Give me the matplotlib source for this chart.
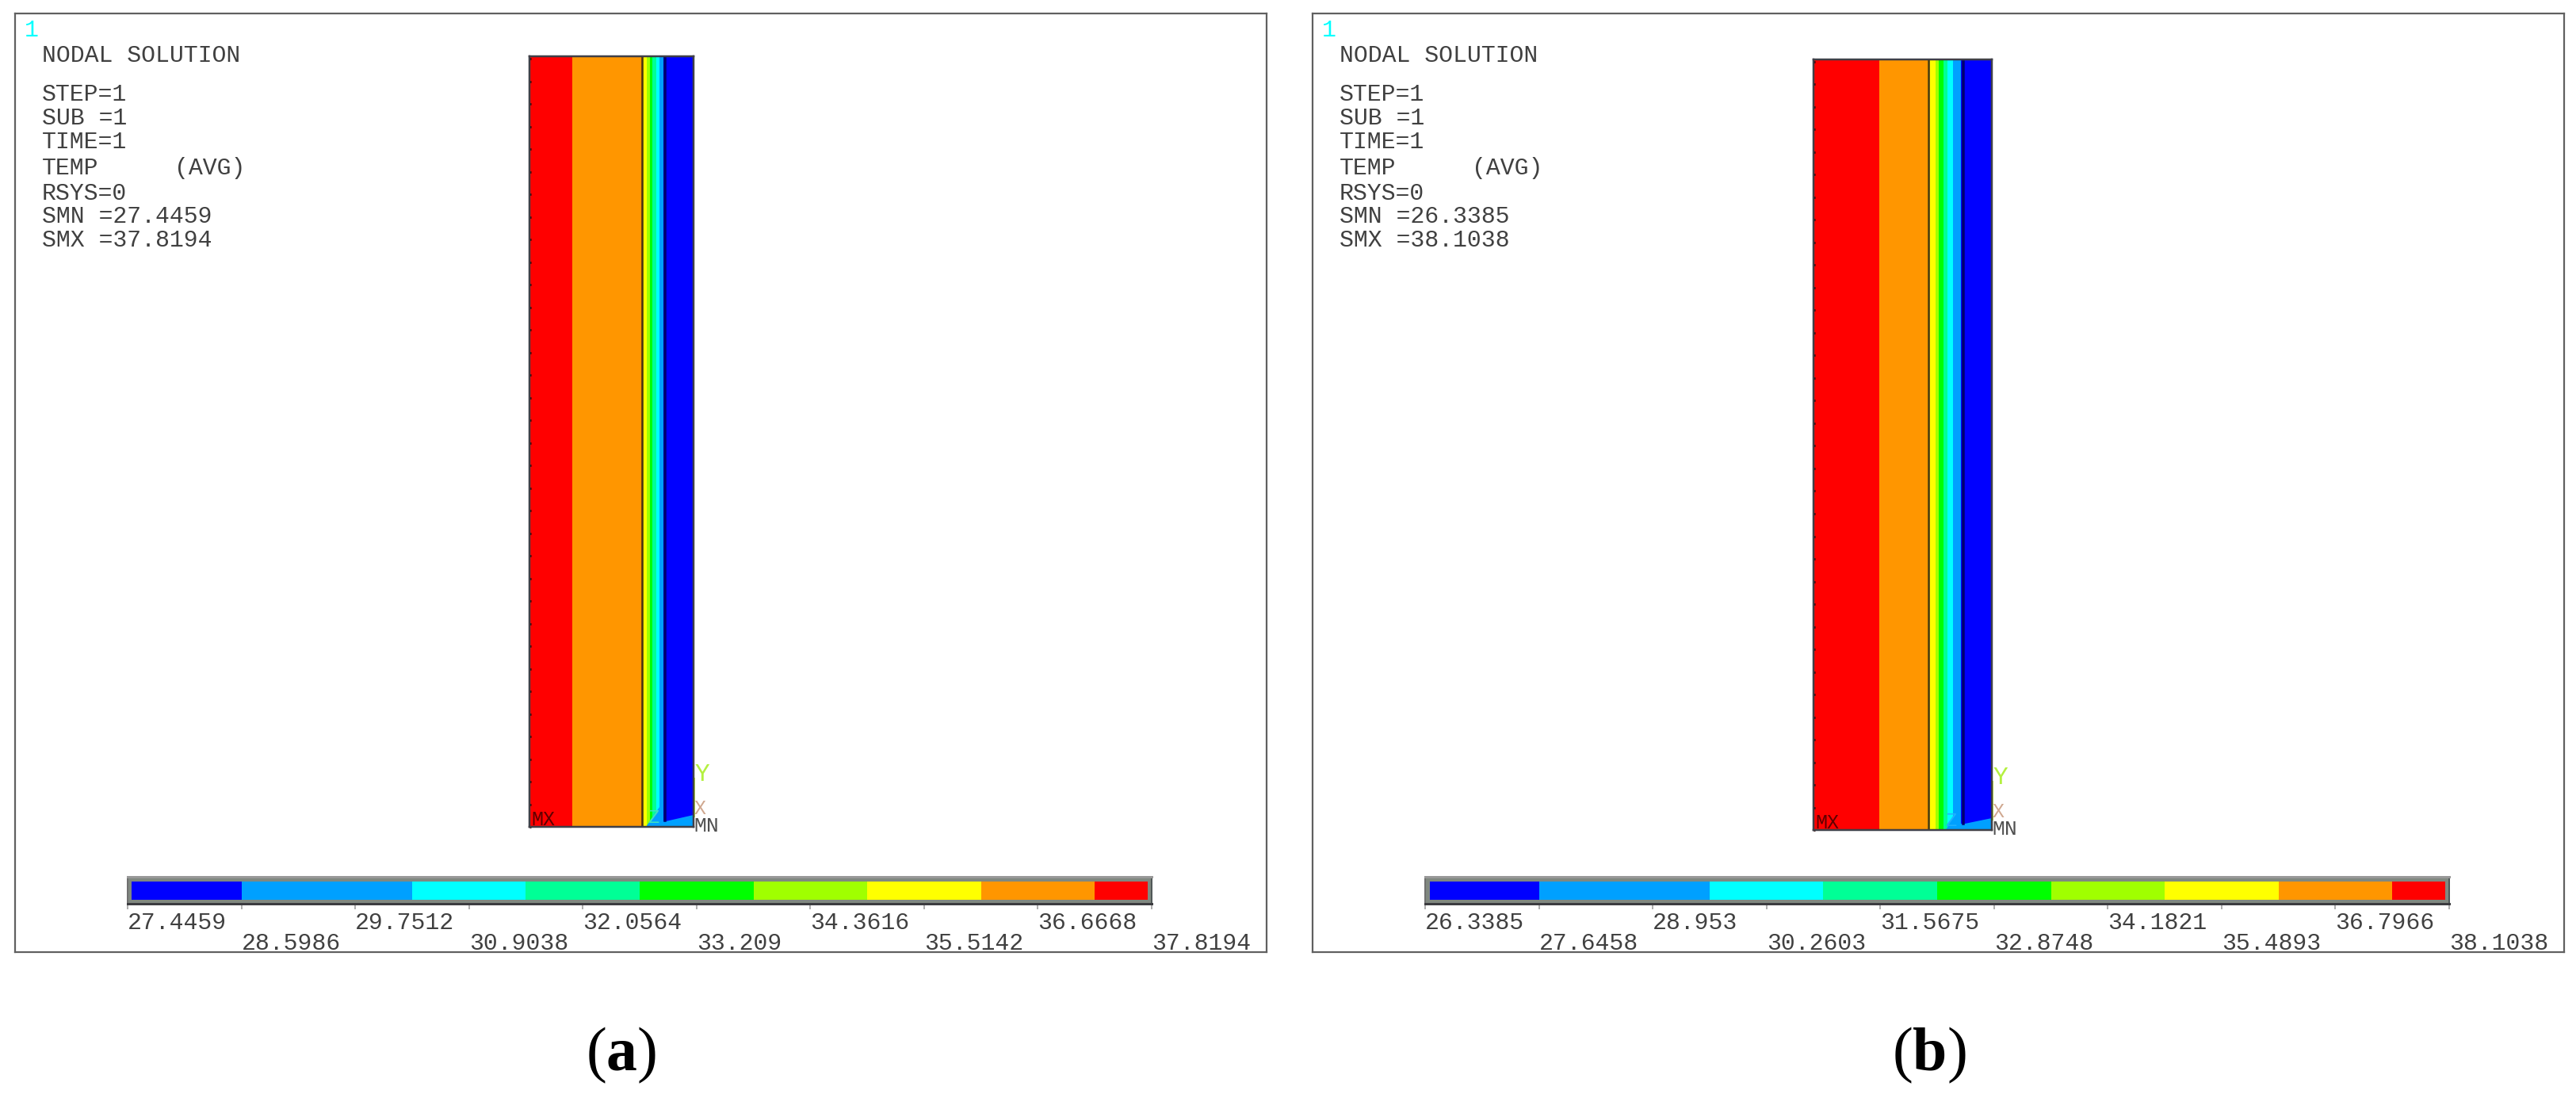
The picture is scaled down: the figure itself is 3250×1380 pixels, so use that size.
import matplotlib
matplotlib.use("Agg")
import matplotlib.pyplot as plt
from matplotlib.ticker import MultipleLocator

W, H = 3250, 1380

plt.rcParams['font.family'] = ['Liberation Mono', 'DejaVu Sans Mono']
plt.rcParams['mathtext.fontset'] = 'custom'
plt.rcParams['mathtext.bf'] = 'Liberation Serif:bold'
plt.rcParams['mathtext.rm'] = 'Liberation Serif'

# ANSYS contour colours, low to high
band_colors = ['#0000ff', '#00a0ff', '#00ffff', '#00ff96', '#00ff00',
               '#a0ff00', '#ffff00', '#ff9600', '#ff0000']

# left panel (a)
levels_a = [27.4459, 28.5986, 29.7512, 30.9038, 32.0564, 33.209, 34.3616, 35.5142, 36.6668, 37.8194]
labels_a = ['27.4459', '28.5986', '29.7512', '30.9038', '32.0564', '33.209', '34.3616', '35.5142', '36.6668', '37.8194']
legend_edges_a = [27.49, 28.5986, 30.3275, 31.4801, 32.6327, 33.7853, 34.9379, 36.0905, 37.2431, 37.78]
stats_a = ['27.4459', '37.8194']
# wall section, x across the wall, bands from hot side to cold side
wall_edges_a = [0, 54, 142, 148, 152, 155, 160, 164, 169, 207]
wall_colors_a = ['#ff0000', '#ff9600', '#ffff00', '#a0ff00', '#00ff00', '#00ff96', '#00ffff', '#00a0ff', '#0000ff']
corner_x_a = [147, 164, 169, 172, 207, 207]
corner_y_a = [0, 25, 7, 7, 15, 0]
line_x_a = [142, 170.5]

# right panel (b)
levels_b = [26.3385, 27.6458, 28.953, 30.2603, 31.5675, 32.8748, 34.1821, 35.4893, 36.7966, 38.1038]
labels_b = ['26.3385', '27.6458', '28.953', '30.2603', '31.5675', '32.8748', '34.1821', '35.4893', '36.7966', '38.1038']
legend_edges_b = [26.39, 27.6458, 29.6067, 30.9139, 32.2212, 33.5285, 34.8357, 36.143, 37.4502, 38.055]
stats_b = ['26.3385', '38.1038']
wall_edges_b = [0, 83, 144, 154, 158, 164, 169, 176, 186, 225]
wall_colors_b = ['#ff0000', '#ff9600', '#ffff00', '#a0ff00', '#00ff00', '#00ff96', '#00ffff', '#00a0ff', '#0000ff']
corner_x_b = [167, 176, 186, 191, 225, 225]
corner_y_b = [0, 17, 8, 8, 15, 0]
line_x_b = [145, 188.5]

TEXT = '#404040'
FS = 21.5
px = 0.72  # points per pixel at dpi 100


def add_ax(x0, y0, x1, y1, **kw):
    return fig.add_axes([x0 / W, 1 - y1 / H, (x1 - x0) / W, (y1 - y0) / H], **kw)


def panel(x0, frame, wall, bar, levels, labels, legend_edges, stats, edges, colors,
          corner_x, corner_y, line_x, z_x, z_color, caption, caption_x):
    # outer frame, in image pixels
    ax = add_ax(frame[0], frame[1], frame[2], frame[3])
    ax.set_xlim(frame[0], frame[2])
    ax.set_ylim(frame[3], frame[1])
    ax.set_xticks([])
    ax.set_yticks([])
    for s in ax.spines.values():
        s.set_color('#606060')
        s.set_linewidth(2.2 * px)

    ax.text(x0 + 31, 38, '1', color='#00ffff', fontsize=FS, ha='left', va='center')
    lines = [('NODAL SOLUTION', 70), ('STEP=1', 119), ('SUB =1', 149), ('TIME=1', 179),
             ('TEMP', 212), ('RSYS=0', 244), ('SMN =' + stats[0], 273), ('SMX =' + stats[1], 303)]
    for s, y in lines:
        ax.text(x0 + 53, y, s, color=TEXT, fontsize=FS, ha='left', va='center')
    ax.text(x0 + 220, 212, '(AVG)', color=TEXT, fontsize=FS, ha='left', va='center')

    # wall contour bands
    wx = add_ax(*wall)
    wx.set_xlim(0, edges[-1])
    wx.set_ylim(0, wall[3] - wall[1])
    wx.patch.set_alpha(0)
    for i in range(len(colors)):
        wx.axvspan(edges[i], edges[i + 1], color=colors[i], lw=0)
    wx.fill(corner_x, corner_y, color='#00a0ff', lw=0)
    wx.axvline(line_x[0], color='#4a3410', lw=2.6 * px)
    wx.axvline(line_x[1], color='#00006e', lw=3.5 * px, ymin=0.008)
    wx.xaxis.set_visible(False)
    wx.yaxis.set_major_locator(MultipleLocator(28.5))
    wx.tick_params(axis='y', direction='in', length=1.5, width=2, color='#300000', labelleft=False)
    for s in wx.spines.values():
        s.set_color('#404048')
        s.set_linewidth(2.5 * px)

    # triad and min/max markers, placed in frame pixels
    r, b = wall[2], wall[3]
    ax.plot([r + 1, r + 1], [b - 61, b - 13], color='#c8f040', lw=2 * px)
    ax.text(r + 11, b - 66, 'Y', color='#b4f040', fontsize=FS + 1, ha='center', va='center')
    ax.text(r + 8, b - 23, 'X', color='#d0a890', fontsize=18, ha='center', va='center')
    ax.text(r, b - 1, 'MN', color='#505050', fontsize=19, ha='left', va='center')
    wx.text(z_x, 11, 'Z', color=z_color, fontsize=17, ha='center', va='center')
    wx.text(2, 9, 'MX', color='#600000', fontsize=18, ha='left', va='center', zorder=5)

    # legend bar
    cb = add_ax(*bar)
    cb.set_xlim(levels[0], levels[-1])
    cb.set_ylim(0, 1)
    cb.set_yticks([])
    cb.set_facecolor('#808880')
    for i in range(len(band_colors)):
        cb.barh(0.485, legend_edges[i + 1] - legend_edges[i], height=0.7, left=legend_edges[i],
                color=band_colors[i], lw=0)
    cb.set_xticks(levels, labels, ha='left', fontsize=FS, color=TEXT)
    cb.tick_params(axis='x', length=5, width=1.2, color='#a0a0a0')
    for i, t in enumerate(cb.xaxis.get_major_ticks()):
        t.set_pad(2 if i % 2 == 0 else 21)
    cb.spines['top'].set_color('#989898')
    cb.spines['top'].set_linewidth(3 * px)
    cb.spines['bottom'].set_color('#3c3c40')
    cb.spines['bottom'].set_linewidth(3 * px)
    cb.spines['left'].set_color('#707070')
    cb.spines['right'].set_color('#505858')
    cb.spines['left'].set_linewidth(2 * px)
    cb.spines['right'].set_linewidth(2 * px)

    fig.text(caption_x / W, 1 - 1331 / H, '($\\mathbf{' + caption + '}$)', fontsize=56,
             family='Liberation Serif', ha='center', va='center', color='black')


fig = plt.figure(figsize=(W / 100, H / 100), dpi=100, facecolor='white')

panel(0, (19, 17, 1598, 1201), (668, 71, 875, 1043), (161, 1106, 1453, 1140),
      levels_a, labels_a, legend_edges_a, stats_a, wall_edges_a, wall_colors_a,
      corner_x_a, corner_y_a, line_x_a, 156, '#40e0c0', 'a', 784)
panel(1637, (1656, 17, 3235, 1201), (2288, 75, 2513, 1047), (1798, 1106, 3090, 1140),
      levels_b, labels_b, legend_edges_b, stats_b, wall_edges_b, wall_colors_b,
      corner_x_b, corner_y_b, line_x_b, 173, '#20b0ff', 'b', 2434)

fig.savefig('out.png', dpi=100)
